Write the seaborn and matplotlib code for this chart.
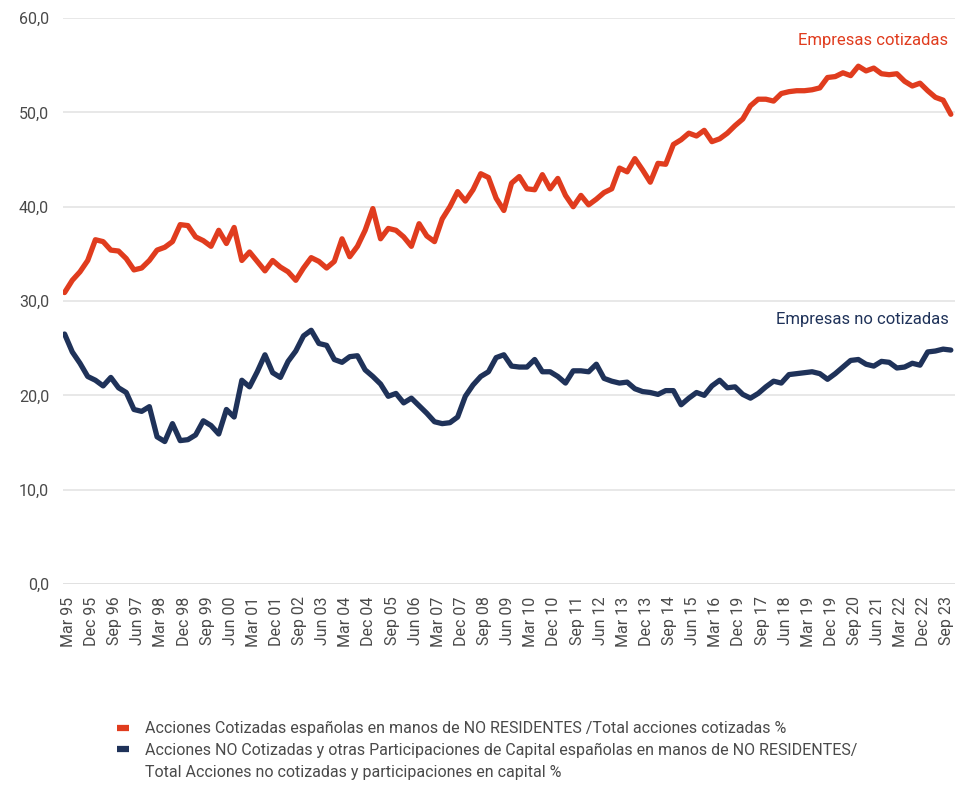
import numpy as np
import pandas as pd
import seaborn as sns
from matplotlib import pyplot as plt
from matplotlib.lines import Line2D
from matplotlib.ticker import FuncFormatter

# quarterly series, Mar 95 .. Dec 23
cotizadas = [
    30.9, 32.2, 33.1, 34.3, 36.5, 36.3, 35.4, 35.3, 34.5, 33.3,
    33.5, 34.3, 35.4, 35.7, 36.3, 38.1, 38.0, 36.8, 36.4, 35.8,
    37.5, 36.1, 37.8, 34.3, 35.2, 34.2, 33.2, 34.3, 33.6, 33.1,
    32.2, 33.5, 34.6, 34.2, 33.5, 34.2, 36.6, 34.7, 35.8, 37.5,
    39.8, 36.6, 37.7, 37.5, 36.8, 35.8, 38.2, 36.9, 36.3, 38.7,
    40.0, 41.6, 40.6, 41.8, 43.5, 43.1, 40.9, 39.6, 42.5, 43.2,
    41.9, 41.8, 43.4, 41.9, 43.0, 41.2, 40.0, 41.2, 40.2, 40.8,
    41.5, 41.9, 44.1, 43.7, 45.1, 43.9, 42.6, 44.6, 44.5, 46.6,
    47.1, 47.8, 47.5, 48.1, 46.9, 47.2, 47.8, 48.6, 49.3, 50.7,
    51.4, 51.4, 51.2, 52.0, 52.2, 52.3, 52.3, 52.4, 52.6, 53.7,
    53.8, 54.2, 53.9, 54.9, 54.4, 54.7, 54.1, 54.0, 54.1, 53.3,
    52.8, 53.1, 52.3, 51.6, 51.3, 49.8,
]
no_cotizadas = [
    26.5, 24.6, 23.4, 22.0, 21.6, 21.0, 21.9, 20.8, 20.3, 18.5,
    18.3, 18.8, 15.6, 15.1, 17.0, 15.2, 15.3, 15.8, 17.3, 16.8,
    15.9, 18.5, 17.7, 21.6, 20.9, 22.5, 24.3, 22.4, 21.9, 23.6,
    24.7, 26.3, 26.9, 25.5, 25.3, 23.8, 23.5, 24.1, 24.2, 22.7,
    22.0, 21.2, 19.9, 20.2, 19.2, 19.7, 18.9, 18.1, 17.2, 17.0,
    17.1, 17.7, 19.9, 21.1, 22.0, 22.5, 24.0, 24.3, 23.1, 23.0,
    23.0, 23.8, 22.5, 22.5, 22.0, 21.3, 22.6, 22.6, 22.5, 23.3,
    21.8, 21.5, 21.3, 21.4, 20.7, 20.4, 20.3, 20.1, 20.5, 20.5,
    19.0, 19.7, 20.3, 20.0, 21.0, 21.6, 20.8, 20.9, 20.1, 19.7,
    20.2, 20.9, 21.5, 21.3, 22.2, 22.3, 22.4, 22.5, 22.3, 21.7,
    22.3, 23.0, 23.7, 23.8, 23.3, 23.1, 23.6, 23.5, 22.9, 23.0,
    23.4, 23.2, 24.6, 24.7, 24.9, 24.8,
]
tick_labels = [
    "Mar 95", "Dec 95", "Sep 96", "Jun 97", "Mar 98", "Dec 98", "Sep 99",
    "Jun 00", "Mar 01", "Dec 01", "Sep 02", "Jun 03", "Mar 04", "Dec 04",
    "Sep 05", "Jun 06", "Mar 07", "Dec 07", "Sep 08", "Jun 09", "Mar 10",
    "Dec 10", "Sep 11", "Jun 12", "Mar 13", "Dec 13", "Sep 14", "Jun 15",
    "Mar 16", "Dec 19", "Sep 17", "Jun 18", "Mar 19", "Dec 19", "Sep 20",
    "Jun 21", "Mar 22", "Dec 22", "Sep 23",
]
legend_lines = [
    "Acciones Cotizadas españolas en manos de NO RESIDENTES /Total acciones cotizadas %",
    "Acciones NO Cotizadas y otras Participaciones de Capital españolas en manos de NO RESIDENTES/",
    "Total Acciones no cotizadas y participaciones en capital %",
]

RED = "#e03c1e"
NAVY = "#1f3259"
GREY = "#4a4a4a"

sns.set_theme(style="white")
plt.rcParams["font.family"] = ["Roboto", "DejaVu Sans"]

q = np.arange(len(cotizadas))
df = pd.DataFrame({"q": q, "cot": cotizadas, "nocot": no_cotizadas})

fig = plt.figure(figsize=(9.7, 7.87), dpi=100)
ax = fig.add_axes([0.065, 0.258, 0.92, 0.719])

sns.lineplot(data=df, x="q", y="cot", color=RED, linewidth=3.8, ax=ax)
sns.lineplot(data=df, x="q", y="nocot", color=NAVY, linewidth=3.8, ax=ax)

ax.set_ylim(0, 60)
ax.set_xlim(-0.2, 115.6)
ax.set_yticks(range(0, 61, 10))
ax.yaxis.set_major_formatter(FuncFormatter(lambda v, p: f"{v:.1f}".replace(".", ",")))
ax.grid(axis="y", color="#e4e4e4", linewidth=1.2)
ax.set_axisbelow(True)
for s in ax.spines.values():
    s.set_visible(False)
ax.axhline(0, color="#d0d0d0", linewidth=1.2, zorder=0)

ax.set_xticks(q[::3] + 0.5)
ax.set_xticklabels(tick_labels, rotation=90, fontsize=11.5, color=GREY)
ax.tick_params(axis="y", labelsize=11.5, labelcolor=GREY, length=0, pad=10)
ax.tick_params(axis="x", length=0, pad=9)
ax.set_xlabel("")
ax.set_ylabel("")

ax.text(114.7, 57.6, "Empresas cotizadas", color=RED, fontsize=12, ha="right", va="center")
ax.text(114.7, 28.0, "Empresas no cotizadas", color=NAVY, fontsize=12, ha="right", va="center")

handles = [Line2D([], [], color=RED, linewidth=4.5, solid_capstyle="butt"),
           Line2D([], [], color=NAVY, linewidth=4.5, solid_capstyle="butt"),
           Line2D([], [], color="none")]
leg = fig.legend(handles, legend_lines, loc="upper left", bbox_to_anchor=(0.114, 0.092),
                 frameon=False, fontsize=11.5, labelcolor=GREY, handlelength=0.75,
                 handletextpad=1.0, labelspacing=0.42, borderaxespad=0)

fig.savefig("out.png", dpi=100)
